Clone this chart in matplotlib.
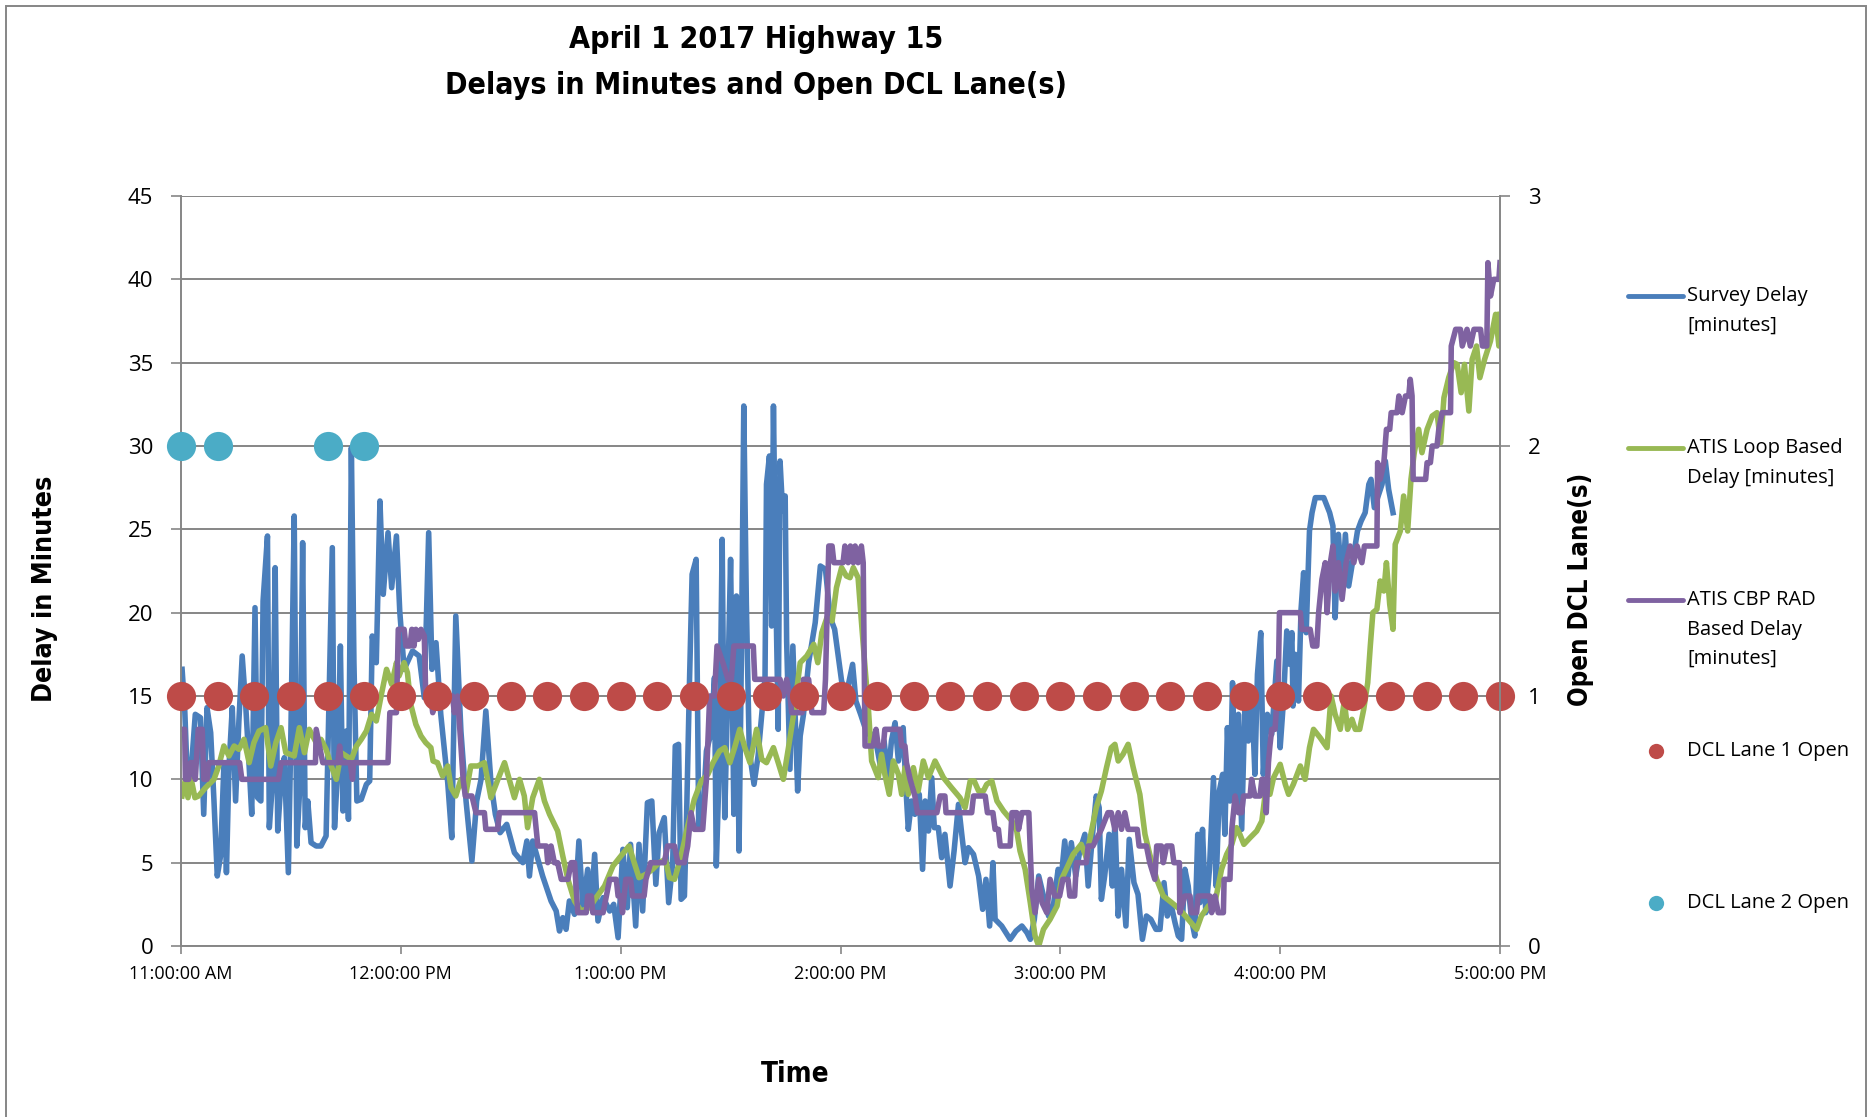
import matplotlib.pyplot as plt
from matplotlib.lines import Line2D
from matplotlib.patches import Rectangle

# time is minutes after 11:00 AM
survey_t = [0.3, 1.0, 1.6, 2.6, 3.9, 5.3, 6.2, 7.1, 8.1, 9.0, 9.9, 10.8, 11.7, 12.4, 13.1, 14.0, 14.9, 15.8,
            16.7, 17.7, 18.6, 19.3, 20.2, 20.9, 21.8, 22.4, 23.6, 24.1, 25.0, 25.7, 26.4, 27.3, 28.2, 29.3,
            30.0, 30.9, 31.6, 32.5, 33.2, 33.9, 34.6, 35.5, 36.9, 38.2, 39.6, 41.3, 41.9, 42.8, 43.5, 44.2,
            45.1, 45.7, 46.5, 47.2, 48.0, 49.2, 50.6, 51.5, 52.2, 53.3, 54.3, 55.2, 56.5, 57.5, 58.8, 59.7,
            60.9, 63.2, 65.0, 66.4, 67.6, 68.5, 69.6, 70.9, 72.8, 73.9, 75.0, 76.4, 77.8, 79.4, 80.7, 81.9,
            83.2, 84.6, 85.8, 87.1, 88.9, 91.0, 93.3, 94.4, 95.1, 96.0, 98.7, 101.0, 102.4, 103.3, 104.2,
            105.1, 106.0, 107.4, 108.6, 109.7, 111.0, 112.0, 112.9, 113.8, 115.2, 117.0, 118.1, 119.3, 120.6,
            121.8, 122.7, 124.1, 125.0, 126.0, 127.3, 128.5, 129.6, 130.5, 131.9, 133.1, 134.2, 134.9, 135.8,
            136.5, 137.4, 138.0, 138.8, 139.5, 140.6, 141.3, 142.4, 143.4, 144.7, 145.6, 146.1, 147.0, 147.7,
            148.4, 149.3, 150.0, 150.9, 151.6, 152.3, 153.0, 153.6, 154.3, 155.1, 156.4, 157.5, 158.5, 159.4,
            159.8, 160.6, 161.2, 161.7, 162.4, 163.0, 163.5, 164.2, 164.9, 165.3, 166.2, 167.0, 168.3, 169.0,
            169.9, 171.3, 173.1, 174.5, 175.9, 177.2, 178.4, 180.3, 181.6, 183.3, 184.2, 185.5, 186.7, 187.8,
            188.9, 189.8, 190.8, 191.9, 193.0, 193.9, 194.9, 195.8, 197.1, 197.9, 198.5, 199.4, 200.3, 201.5,
            202.4, 203.1, 204.0, 204.9, 205.6, 206.7, 207.6, 208.5, 209.9, 211.0, 212.2, 213.1, 214.0, 214.9,
            216.3, 217.7, 218.8, 219.7, 220.7, 221.6, 222.2, 224.0, 226.3, 227.9, 229.5, 230.9, 231.8, 232.9,
            234.1, 235.4, 236.8, 238.2, 239.4, 240.3, 241.2, 242.1, 243.0, 244.2, 245.3, 246.7, 247.6, 248.8,
            249.8, 250.6, 251.2, 252.1, 253.3, 254.2, 254.9, 255.8, 256.7, 257.9, 258.8, 260.1, 261.2, 262.4,
            263.5, 264.7, 266.1, 267.2, 268.3, 269.2, 270.1, 271.3, 272.2, 273.1, 274.0, 274.9, 275.8, 276.7,
            277.5, 278.1, 278.8, 279.7, 280.7, 281.8, 282.5, 283.4, 284.3, 284.9, 285.6, 286.3, 287.0, 287.8,
            288.6, 289.5, 290.4, 291.3, 292.2, 293.1, 293.8, 294.7, 295.4, 296.5, 297.7, 299.1, 300.0, 300.9,
            301.8, 302.6, 303.2, 303.5, 304.1, 305.0, 305.7, 306.4, 307.1, 308.0, 308.7, 309.6, 311.9, 313.5,
            314.4, 315.0, 315.9, 316.9, 317.8, 318.7, 320.1, 321.1, 322.1, 323.2, 324.2, 324.8, 325.7, 326.9,
            327.8, 328.7, 329.6, 330.8]
survey_v = [16.6, 14.3, 10.8, 10.0, 13.9, 13.7, 7.9, 14.3, 12.8, 8.7, 4.2, 5.4, 10.8, 4.4, 10.8, 14.3, 8.7, 13.5,
            17.4, 14.3, 10.8, 7.9, 20.3, 8.9, 8.7, 20.7, 24.6, 7.1, 9.9, 22.7, 6.9, 9.9, 11.3, 4.4,
            12.9, 25.8, 6.0, 9.9, 24.2, 7.1, 8.7, 6.2, 6.0, 6.0, 6.6, 23.9, 7.1, 10.8, 18.0, 8.1,
            12.9, 7.6, 29.9, 17.0, 8.7, 8.8, 9.7, 9.9, 18.6, 17.0, 26.7, 21.1, 24.8, 21.5, 24.6, 20.1,
            16.6, 17.7, 17.4, 14.9, 24.8, 16.6, 18.2, 13.9, 9.8, 6.5, 19.8, 12.9, 8.7, 5.1, 8.7, 10.0,
            14.1, 9.8, 7.9, 6.8, 7.3, 5.6, 5.0, 6.3, 4.2, 6.3, 4.2, 2.7, 2.1, 0.9, 1.7,
            1.0, 2.7, 1.9, 6.3, 2.3, 4.6, 2.5, 5.5, 1.5, 2.9, 2.1, 2.5, 0.5, 5.8,
            2.3, 6.1, 1.2, 6.1, 2.1, 8.6, 8.7, 3.7, 6.8, 7.7, 2.6, 5.0, 12.0, 12.1,
            2.8, 3.0, 7.9, 16.0, 22.3, 23.2, 7.2, 7.7, 11.7, 12.8, 16.1, 4.8, 11.4, 24.4,
            7.7, 16.1, 23.2, 7.9, 21.0, 5.7, 18.3, 32.4, 20.6, 11.7, 9.7, 11.4, 13.9, 16.1,
            27.7, 29.4, 19.2, 32.4, 20.6, 13.0, 29.1, 26.1, 27.0, 18.3, 10.6, 18.0, 9.3, 12.6,
            13.9, 17.0, 19.4, 22.8, 22.6, 19.7, 19.0, 15.9, 15.1, 16.9, 14.7, 13.9, 13.1, 12.7,
            12.7, 12.1, 10.9, 12.3, 10.1, 12.3, 13.4, 11.1, 13.1, 9.3, 7.0, 8.7, 7.9, 9.1,
            4.6, 8.7, 6.9, 10.1, 7.1, 7.1, 5.3, 6.7, 3.6, 5.7, 8.5, 6.7, 5.0, 5.9,
            5.5, 4.2, 2.2, 4.0, 1.2, 5.0, 1.6, 1.2, 0.4, 0.9, 1.2, 0.8, 0.4, 1.6,
            4.2, 3.0, 1.8, 2.6, 4.6, 4.2, 6.3, 4.2, 6.2, 4.2, 5.7, 6.7, 3.6, 6.7,
            9.0, 8.3, 2.8, 4.2, 6.7, 3.6, 7.5, 1.8, 4.6, 1.2, 6.4, 3.8, 3.1, 0.4,
            1.8, 1.6, 1.0, 1.0, 3.8, 1.8, 2.6, 1.4, 0.6, 0.4, 4.6, 3.6, 1.6, 0.6,
            6.7, 2.6, 7.0, 2.0, 4.6, 10.1, 3.6, 9.3, 10.3, 6.7, 13.1, 8.7, 15.8, 8.7,
            13.9, 7.0, 14.7, 12.3, 15.5, 10.3, 16.3, 18.8, 10.3, 13.9, 12.7, 17.1, 11.9, 14.7,
            18.9, 16.9, 18.8, 14.4, 17.5, 14.7, 20.2, 22.4, 18.8, 24.9, 26.0, 26.9, 26.9, 26.0,
            25.2, 19.7, 24.7, 21.3, 24.7, 21.6, 23.5, 24.9, 25.5, 26.0, 27.7, 28.0, 26.3, 27.1,
            27.7, 29.1, 27.4, 26.0]

loop_t = [0.3, 1.2, 1.9, 2.8, 3.8, 4.8, 6.7, 9.0, 10.3, 11.7, 13.1, 14.5, 15.8, 17.2, 18.6, 19.9, 21.3, 23.1,
          24.5, 25.9, 27.3, 28.6, 30.9, 32.3, 33.7, 35.0, 36.9, 38.2, 39.6, 41.0, 42.4, 43.7, 45.1, 46.5,
          47.9, 49.2, 50.6, 52.0, 53.3, 54.7, 56.1, 57.5, 58.8, 59.5, 60.9, 61.8, 62.7, 64.1, 65.5, 66.8,
          68.2, 68.8, 70.0, 71.4, 72.8, 73.7, 75.0, 76.4, 77.8, 79.1, 81.0, 82.8, 84.6, 86.5, 88.3, 89.6,
          91.0, 92.4, 93.7, 94.6, 96.0, 97.8, 99.2, 100.6, 102.8, 104.2, 105.6, 107.4, 109.2, 111.5, 113.3,
          115.6, 117.9, 119.7, 122.3, 123.7, 125.0, 126.9, 128.7, 130.5, 132.2, 133.3, 134.7, 136.5, 138.3,
          140.1, 142.0, 143.8, 145.2, 147.0, 148.4, 149.8, 151.1, 152.5, 153.9, 155.3, 157.1, 158.5, 159.8,
          161.7, 163.0, 164.4, 165.8, 167.2, 169.0, 170.8, 172.7, 173.8, 174.9, 176.3, 177.7, 178.9, 180.3,
          181.6, 182.6, 183.5, 184.8, 185.7, 186.7, 187.6, 188.5, 190.3, 191.2, 192.1, 193.3, 194.4, 195.8,
          196.7, 197.6, 198.5, 199.9, 201.2, 202.6, 204.0, 205.8, 208.1, 210.3, 212.6, 214.0, 215.4, 216.5,
          217.7, 219.0, 219.9, 221.3, 222.7, 224.5, 226.8, 228.1, 229.0, 230.4, 231.8, 233.1, 234.1, 235.4,
          237.2, 239.1, 240.3, 241.6, 243.5, 245.7, 247.1, 248.5, 249.8, 251.2, 252.6, 253.9, 254.9, 255.8,
          257.1, 258.5, 259.9, 261.7, 263.1, 264.4, 266.3, 268.1, 270.4, 272.6, 274.9, 277.2, 278.5, 280.4,
          282.2, 284.0, 285.4, 286.8, 288.1, 289.0, 290.1, 291.8, 293.6, 295.0, 295.9, 297.2, 298.2, 300.0,
          301.4, 302.3, 303.6, 305.5, 306.8, 308.0, 309.1, 310.9, 312.8, 313.9, 315.0, 316.4, 317.5, 318.4,
          319.6, 320.5, 321.7, 322.8, 323.9, 324.6, 325.3, 326.4, 327.3, 328.3, 329.0, 329.9, 330.8, 331.4,
          332.8, 333.7, 334.8, 335.7, 336.6, 337.8, 338.7, 340.1, 341.5, 342.8, 343.8, 344.7, 346.0, 347.4,
          348.3, 349.4, 350.3, 351.5, 352.4, 353.6, 354.5, 355.8, 357.4, 358.8, 359.7, 360.0]
loop_v = [9.0, 10.0, 8.9, 10.0, 8.9, 9.0, 9.5, 10.0, 10.8, 12.0, 11.4, 12.0, 11.8, 12.4, 11.0, 12.2, 12.9, 13.1,
          10.8, 12.2, 13.1, 11.6, 11.4, 13.1, 11.6, 13.0, 12.2, 12.4, 11.8, 10.8, 10.0, 11.6, 11.4, 11.2,
          12.0, 12.4, 12.9, 13.9, 13.5, 15.1, 16.6, 15.7, 17.0, 16.2, 17.0, 16.4, 14.5, 13.3, 12.6, 12.2,
          11.9, 11.1, 11.0, 10.2, 10.8, 9.5, 9.0, 10.0, 9.2, 10.8, 10.8, 11.0, 8.9, 10.0, 11.0, 10.0,
          8.9, 10.0, 9.0, 7.1, 8.9, 10.0, 8.7, 7.9, 6.9, 5.4, 4.0, 2.7, 2.1, 2.3, 2.9,
          3.6, 4.8, 5.3, 6.0, 5.0, 4.1, 4.3, 4.6, 5.0, 5.2, 4.1, 4.0, 5.4, 7.2,
          8.8, 9.9, 10.3, 11.0, 11.7, 11.9, 11.0, 11.9, 13.0, 11.9, 11.0, 13.0, 11.2, 11.0,
          11.9, 11.0, 10.0, 11.9, 13.9, 17.0, 17.4, 18.1, 17.0, 18.8, 19.7, 19.5, 21.5, 22.7,
          22.2, 22.1, 22.7, 22.1, 19.5, 16.7, 14.3, 11.1, 10.1, 11.5, 10.3, 9.1, 11.1, 10.3,
          9.1, 10.7, 9.1, 10.7, 9.3, 11.1, 10.1, 11.1, 10.1, 9.5, 8.9, 8.3, 9.9, 9.9,
          9.3, 9.3, 9.7, 9.9, 8.7, 8.1, 7.5, 6.9, 5.7, 4.6, 2.6, 0.6, 0.0, 1.0,
          1.6, 2.4, 4.0, 4.6, 5.5, 6.1, 5.3, 6.9, 8.3, 9.3, 10.7, 11.9, 12.1, 11.1,
          11.5, 12.1, 10.7, 9.1, 6.7, 5.5, 4.0, 3.0, 2.6, 2.2, 1.6, 1.0, 1.8, 2.4,
          2.6, 4.6, 5.5, 6.1, 7.1, 6.7, 6.1, 6.5, 6.9, 7.5, 9.1, 9.1, 10.1, 10.9,
          9.7, 9.1, 9.7, 10.8, 10.0, 11.9, 13.0, 12.5, 11.9, 15.0, 13.9, 13.0, 14.7, 13.0,
          13.6, 13.0, 13.0, 14.2, 15.8, 18.0, 20.0, 20.2, 21.9, 21.3, 23.0, 20.5, 19.0, 24.1,
          24.9, 27.0, 24.9, 28.0, 29.6, 31.0, 29.6, 31.0, 31.8, 32.0, 30.2, 32.9, 34.1, 35.0,
          34.9, 33.2, 34.9, 32.1, 35.2, 36.0, 34.1, 35.2, 36.3, 37.9, 36.0, 37.9]

rad_t = [0.3, 1.0, 1.2, 2.1, 2.6, 3.5, 3.9, 4.7, 5.8, 6.2, 7.1, 7.6, 16.0, 16.6, 26.6, 27.3, 36.7, 36.9, 37.8,
         38.7, 42.8, 43.3, 43.7, 46.2, 46.8, 47.1, 56.5, 57.0, 58.8, 59.3, 60.9, 61.4, 62.5, 63.0, 63.6,
         64.1, 64.8, 65.5, 66.4, 66.8, 68.2, 68.7, 69.6, 74.1, 74.6, 75.5, 76.4, 77.0, 77.6, 79.4, 80.5,
         82.8, 83.2, 86.4, 86.9, 96.5, 97.4, 99.7, 100.1, 101.0, 101.9, 102.8, 103.8, 105.6, 106.5, 107.4,
         108.3, 110.6, 111.0, 112.0, 112.4, 115.2, 116.1, 117.0, 118.8, 119.3, 120.0, 120.5, 121.4, 122.7,
         123.2, 126.4, 126.9, 128.2, 131.9, 132.8, 134.7, 135.6, 137.4, 138.3, 139.2, 140.1, 142.4, 143.4,
         144.3, 145.6, 146.3, 147.9, 149.3, 150.2, 150.9, 156.2, 156.6, 163.5, 164.4, 165.3, 166.2, 166.7,
         169.5, 169.9, 171.3, 172.2, 175.4, 175.9, 176.8, 177.7, 178.2, 180.7, 181.2, 182.1, 182.7, 183.5,
         184.0, 184.8, 185.7, 186.2, 186.7, 188.9, 189.7, 190.3, 191.7, 192.1, 196.2, 196.7, 197.6, 198.0,
         199.0, 200.3, 201.0, 206.3, 207.2, 208.5, 208.8, 215.8, 216.3, 219.5, 220.1, 221.6, 222.2, 223.1,
         223.6, 226.3, 226.8, 228.1, 228.6, 229.5, 231.4, 232.2, 233.1, 234.1, 235.0, 236.3, 237.2, 238.5,
         239.8, 240.7, 242.1, 242.6, 243.9, 244.4, 247.1, 247.6, 248.9, 251.2, 253.0, 253.9, 254.9, 255.8,
         256.7, 257.6, 258.5, 261.0, 261.5, 263.5, 264.4, 265.8, 266.3, 267.6, 268.1, 269.0, 270.4, 271.0,
         272.5, 272.6, 274.0, 275.4, 275.8, 277.2, 277.6, 280.8, 281.3, 282.2, 283.1, 284.5, 284.7, 286.3,
         286.8, 287.7, 288.6, 289.5, 290.0, 291.8, 292.2, 293.1, 294.5, 295.0, 295.9, 296.2, 296.8, 297.2,
         297.7, 298.6, 299.5, 299.8, 305.5, 305.9, 308.2, 308.9, 310.0, 310.5, 311.4, 312.3, 312.8, 313.7,
         314.4, 315.0, 315.9, 316.9, 318.0, 319.1, 320.1, 321.0, 322.3, 323.0, 326.4, 326.6, 327.3, 328.3,
         329.0, 329.9, 330.3, 331.9, 332.4, 333.3, 334.2, 335.1, 335.5, 336.0, 336.3, 339.7, 340.1, 341.0,
         341.5, 342.8, 343.3, 344.2, 346.5, 346.7, 347.9, 349.2, 349.7, 351.0, 351.9, 352.9, 354.7, 355.2,
         356.4, 356.7, 357.4, 358.3, 359.7, 360.0]
rad_v = [13, 13, 10, 10, 11, 11, 10, 13, 13, 10, 10, 11, 11, 10, 10, 11, 11, 13, 12,
         11, 11, 12, 11, 11, 10, 11, 11, 14, 14, 19, 19, 18, 18, 19, 18,
         19, 18.4, 19, 18.6, 15, 15, 14, 15, 15, 14, 15, 12, 10, 9, 9, 8,
         8, 7, 7, 8, 8, 6, 6, 5, 6, 5, 5, 4, 4, 5, 5,
         2, 2, 3, 3, 2, 2, 3, 4, 4, 3, 3, 2, 4, 4,
         3, 3, 4, 5, 5, 6, 6, 5, 5, 6, 8, 7, 7, 10,
         15, 15, 18, 17, 16, 16, 18, 18, 16, 16, 15, 16, 15, 14,
         14, 16, 16, 14, 14, 16, 24, 24, 23, 23, 24, 23, 24, 23,
         24, 23, 24, 23, 12, 12, 13, 12, 12, 13, 13, 12, 12, 11,
         10, 9, 8, 8, 9, 9, 8, 8, 9, 9, 8, 8, 7, 7,
         6, 6, 8, 8, 7, 8, 8, 3.4, 2, 4, 2.6, 2, 4, 3,
         3, 4, 4, 3, 3, 5, 5, 6, 6, 7, 8, 8, 7, 8,
         7, 8, 7, 7, 6, 6, 5, 4, 6, 6, 5, 6, 6, 5,
         5, 2, 3, 3, 2, 2, 3, 3, 2, 3, 2, 2, 4, 4,
         7, 9, 8, 8, 9, 9, 10, 9, 9, 10, 10, 8, 11, 12,
         13, 13, 16, 20, 20, 19, 19, 18, 18, 20, 22, 23, 20, 23,
         24, 21.3, 23, 20.8, 23, 24, 23, 24, 23, 24, 24, 29, 28, 29,
         31, 31, 32, 32, 33, 32, 33, 33, 34, 33, 28, 28, 29, 29,
         30, 30, 31, 32, 32, 36, 37, 37, 36, 37, 36, 37, 37, 36,
         36, 41, 39, 40, 40, 41]

lane1_t = [0, 10, 20, 30, 40, 50, 60, 70, 80, 90, 100, 110, 120, 130, 140, 150, 160, 170, 180,
           190, 200, 210, 220, 230, 240, 250, 260, 270, 280, 290, 300, 310, 320, 330, 340, 350, 360]
lane1_v = [1] * len(lane1_t)
lane2_t = [0, 10, 40, 50]
lane2_v = [2, 2, 2, 2]

x_ticks = [0, 60, 120, 180, 240, 300, 360]
x_labels = ['11:00:00 AM', '12:00:00 PM', '1:00:00 PM', '2:00:00 PM', '3:00:00 PM', '4:00:00 PM', '5:00:00 PM']

W, H = 1870, 1117
grey = '#868686'
# Calibri-like condensed bold; the first family that is installed wins
narrow = dict(family=['Liberation Sans Narrow', 'DejaVu Sans'], fontstretch='condensed',
              fontweight='bold')
plt.rcParams['font.family'] = ['Open Sans', 'DejaVu Sans']

fig = plt.figure(figsize=(W / 100, H / 100), dpi=100)
ax = fig.add_axes([181 / W, 1 - 946 / H, (1500 - 181) / W, (946 - 196) / H])

lw = 4
ax.plot(survey_t, survey_v, color='#4A7EBB', lw=lw, solid_joinstyle='round')
ax.plot(loop_t, loop_v, color='#98B954', lw=lw, solid_joinstyle='round')
ax.plot(rad_t, rad_v, color='#7F62A1', lw=lw, solid_joinstyle='round')

ax.set_xlim(0, 360)
ax.set_ylim(0, 45)
ax.set_yticks(range(0, 46, 5))
ax.set_xticks(x_ticks)
ax.set_xticklabels(x_labels)
ax.yaxis.grid(True, color=grey, lw=1.4)
ax.set_axisbelow(True)
for s in ['top', 'right']:
    ax.spines[s].set_visible(False)
for s in ['left', 'bottom']:
    ax.spines[s].set_color(grey)
    ax.spines[s].set_linewidth(1.4)
ax.tick_params(axis='y', length=7, color=grey, width=1.2, labelsize=16, pad=13)
ax.tick_params(axis='x', length=6, color=grey, width=1.2, labelsize=13, pad=8)

ax2 = ax.twinx()
ax2.plot(lane1_t, lane1_v, 'o', color='#BE4B48', ms=21, mec='none', clip_on=False)
ax2.plot(lane2_t, lane2_v, 'o', color='#4BACC6', ms=21, mec='none', clip_on=False)
ax2.set_ylim(0, 3)
ax2.set_yticks([0, 1, 2, 3])
for s in ['top', 'left', 'bottom']:
    ax2.spines[s].set_visible(False)
ax2.spines['right'].set_color(grey)
ax2.spines['right'].set_linewidth(1.4)
ax2.tick_params(axis='y', length=7, color=grey, width=1.2, labelsize=16, pad=13)

# titles and axis labels
fig.text(756 / W, 1 - 40 / H, 'April 1 2017 Highway 15', ha='center', va='center',
         fontsize=21.8, **narrow)
fig.text(756 / W, 1 - 85 / H, 'Delays in Minutes and Open DCL Lane(s)', ha='center', va='center',
         fontsize=21.8, **narrow)
fig.text(45 / W, 1 - 589 / H, 'Delay in Minutes', rotation=90, ha='center', va='center',
         fontsize=19.3, **narrow)
fig.text(1581 / W, 1 - 589 / H, 'Open DCL Lane(s)', rotation=90, ha='center', va='center',
         fontsize=18.5, **narrow)
fig.text(795 / W, 1 - 1074 / H, 'Time', ha='center', va='center', fontsize=20, **narrow)

# legend, laid out like the Excel one
leg_items = [
    ('line', '#4A7EBB', 296, ['Survey Delay', '[minutes]']),
    ('line', '#98B954', 448, ['ATIS Loop Based', 'Delay [minutes]']),
    ('line', '#7F62A1', 600, ['ATIS CBP RAD', 'Based Delay', '[minutes]']),
    ('dot', '#BE4B48', 751, ['DCL Lane 1 Open']),
    ('dot', '#4BACC6', 903, ['DCL Lane 2 Open']),
]
for kind, col, ypx, lines in leg_items:
    yf = 1 - ypx / H
    if kind == 'line':
        fig.add_artist(Line2D([1628 / W, 1683 / W], [yf, yf], color=col, lw=3.5,
                              solid_capstyle='round', transform=fig.transFigure))
    else:
        fig.add_artist(Line2D([1656 / W], [yf], marker='o', ms=11, color=col, mec='none',
                              transform=fig.transFigure))
    for k, txt in enumerate(lines):
        fig.text(1687 / W, 1 - (ypx + k * 29.5) / H, txt, ha='left', va='center', fontsize=14.5)

# chart border
fig.add_artist(Rectangle((6 / W, -0.01), (1866 - 6) / W, 1.01 - 6 / H, fill=False,
                         edgecolor=grey, lw=1.4, transform=fig.transFigure))

fig.savefig('out.png', dpi=100)
